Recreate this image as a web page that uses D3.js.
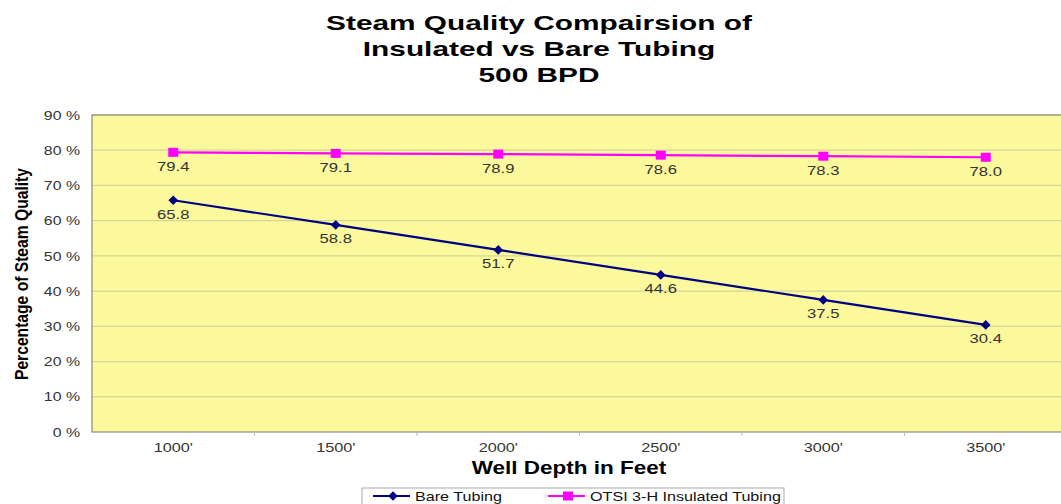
<!DOCTYPE html>
<html>
<head>
<meta charset="utf-8">
<script src="https://cdn.jsdelivr.net/npm/d3@7"></script>
<style>
  body { margin: 0; background: #fff; }
  svg { display: block; font-family: "Liberation Sans", Arial, sans-serif; }
</style>
</head>
<body>
<svg id="chart" width="1061" height="504"></svg>
<script>
// --- data ---
const depths = ["1000'", "1500'", "2000'", "2500'", "3000'", "3500'"];
const bareTubing = [65.8, 58.8, 51.7, 44.6, 37.5, 30.4];
const insulatedTubing = [79.4, 79.1, 78.9, 78.6, 78.3, 78.0];
const yTicks = [0, 10, 20, 30, 40, 50, 60, 70, 80, 90];
const titleLines = ["Steam Quality Compairsion of", "Insulated vs Bare Tubing", "500 BPD"];

const series = [
  { name: "Bare Tubing", values: bareTubing, color: "#000080", marker: "diamond" },
  { name: "OTSI 3-H Insulated Tubing", values: insulatedTubing, color: "#ff00ff", marker: "square" }
];

const margin = { top: 115, right: -6, bottom: 72, left: 92 },
      width = 1061 - margin.left - margin.right,
      height = 504 - margin.top - margin.bottom;

const svg = d3.select("#chart");

// the original picture is stretched sideways, so widen the text to match
function stretch(sel, f) {
  sel.each(function () {
    const w = this.getComputedTextLength();
    d3.select(this).attr("textLength", w * f).attr("lengthAdjust", "spacingAndGlyphs");
  });
}

// title
const title = svg.append("g").selectAll("text")
  .data(titleLines).enter().append("text")
  .attr("x", 539).attr("y", (d, i) => 30 + i * 26)
  .attr("text-anchor", "middle")
  .attr("font-size", 21).attr("font-weight", "bold").attr("fill", "#000")
  .text(d => d);
stretch(title, 1.42);

const g = svg.append("g").attr("transform", `translate(${margin.left},${margin.top})`);

const x = d3.scaleBand().domain(depths).range([0, width]);
const y = d3.scaleLinear().domain([0, 90]).range([height, 0]);

// plot background
g.append("rect").attr("width", width).attr("height", height).attr("fill", "#fbf99c");

// gridlines
g.append("g").selectAll("line")
  .data(yTicks.filter(d => d > 0)).enter().append("line")
  .attr("x1", 0).attr("x2", width)
  .attr("y1", d => y(d)).attr("y2", d => y(d))
  .attr("stroke", "#d9d49c").attr("stroke-width", 1.2);

// border
g.append("rect").attr("width", width).attr("height", height)
  .attr("fill", "none").attr("stroke", "#8c8c7a").attr("stroke-width", 1.2);

// y axis
const yAxis = g.append("g")
  .call(d3.axisLeft(y).tickValues(yTicks).tickFormat(d => d + " %").tickSize(0).tickPadding(12));
yAxis.select(".domain").remove();
yAxis.selectAll("text").attr("font-size", 13).attr("fill", "#333")
  .attr("font-family", "Liberation Sans, Arial, sans-serif");
stretch(yAxis.selectAll("text"), 1.22);

// x axis
const xAxis = g.append("g").attr("transform", `translate(0,${height})`)
  .call(d3.axisBottom(x).tickSize(0).tickPadding(11));
xAxis.select(".domain").remove();
xAxis.selectAll("text").attr("font-size", 13).attr("fill", "#333")
  .attr("font-family", "Liberation Sans, Arial, sans-serif");
stretch(xAxis.selectAll("text"), 1.25);

// small tick marks between categories
g.append("g").selectAll("line")
  .data(depths.slice(1)).enter().append("line")
  .attr("x1", d => x(d)).attr("x2", d => x(d))
  .attr("y1", height).attr("y2", height + 4)
  .attr("stroke", "#bbb");

// axis titles
const xTitle = svg.append("text")
  .attr("x", 569).attr("y", 474)
  .attr("text-anchor", "middle")
  .attr("font-size", 18).attr("font-weight", "bold")
  .text("Well Depth in Feet");
stretch(xTitle, 1.25);

svg.append("text")
  .attr("transform", "translate(28,274) rotate(-90)")
  .attr("text-anchor", "middle")
  .attr("font-size", 19).attr("font-weight", "bold")
  .attr("textLength", 212).attr("lengthAdjust", "spacingAndGlyphs")
  .text("Percentage of Steam Quality");

// lines + markers + labels
const line = d3.line()
  .x((d, i) => x(depths[i]) + x.bandwidth() / 2)
  .y(d => y(d));

function drawMarker(sel, s) {
  if (s.marker === "diamond") {
    sel.append("rect")
      .attr("x", -3.4).attr("y", -3.4).attr("width", 6.8).attr("height", 6.8)
      .attr("transform", "rotate(45)")
      .attr("fill", s.color);
  } else {
    sel.append("rect")
      .attr("x", -5).attr("y", -4.5).attr("width", 10).attr("height", 9)
      .attr("fill", s.color);
  }
}

series.forEach(s => {
  const sg = g.append("g");
  sg.append("path").datum(s.values)
    .attr("d", line).attr("fill", "none")
    .attr("stroke", s.color).attr("stroke-width", 2.2);

  const pts = sg.selectAll(".pt").data(s.values).enter().append("g")
    .attr("class", "pt")
    .attr("transform", (d, i) => `translate(${x(depths[i]) + x.bandwidth() / 2},${y(d)})`);
  pts.each(function () { drawMarker(d3.select(this), s); });

  const lbl = sg.selectAll(".lbl").data(s.values).enter().append("text")
    .attr("x", (d, i) => x(depths[i]) + x.bandwidth() / 2)
    .attr("y", d => y(d) + 18.5)
    .attr("text-anchor", "middle")
    .attr("font-size", 13).attr("fill", "#333")
    .text(d => d.toFixed(1));
  stretch(lbl, 1.28);
});

// legend
const legend = svg.append("g").attr("transform", "translate(362,488)");
legend.append("rect").attr("width", 422).attr("height", 22)
  .attr("fill", "#fff").attr("stroke", "#aaa");

const legendX = [11, 186];
series.forEach((s, i) => {
  const lg = legend.append("g").attr("transform", `translate(${legendX[i]},8)`);
  lg.append("line").attr("x1", 0).attr("x2", 37).attr("y1", 0).attr("y2", 0)
    .attr("stroke", s.color).attr("stroke-width", 2);
  const m = lg.append("g").attr("transform", "translate(20,0)");
  drawMarker(m, s);
  const t = lg.append("text").attr("x", 42).attr("y", 4.5)
    .attr("font-size", 13).attr("fill", "#111")
    .text(s.name);
  stretch(t, 1.24);
});
</script>
</body>
</html>
